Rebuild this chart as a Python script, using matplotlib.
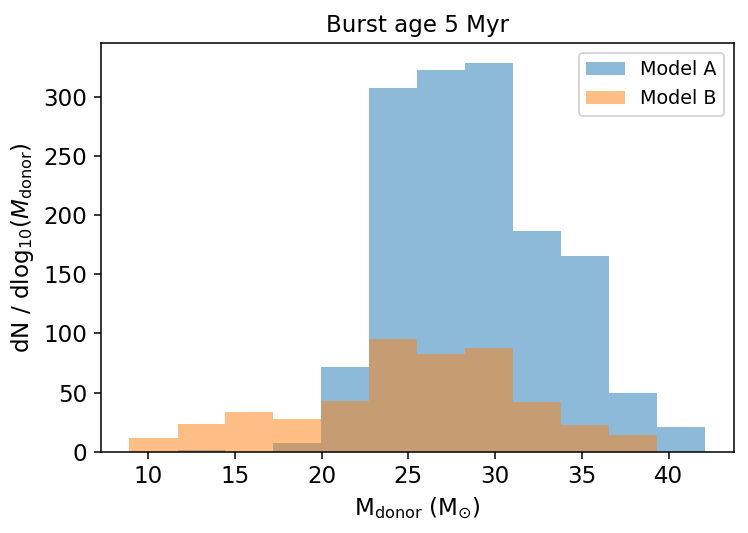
import numpy as np
import matplotlib
matplotlib.use('Agg')
import matplotlib.pyplot as plt

# Bin edges in solar masses (shared by both models)
bin_edges = [8.92, 11.69, 14.45, 17.22, 19.98, 22.75, 25.51,
             28.28, 31.04, 33.81, 36.57, 39.34, 42.10]

# dN / dlog10(M_donor) per bin
model_a = [0, 1.5, 0, 7.7, 71.6, 307.5, 322.6, 328.9, 186.7, 165.8, 49.8, 20.6]
model_b = [11.5, 23.8, 33.8, 27.5, 42.7, 95.0, 83.0, 87.6, 41.8, 22.9, 14.0, 0]

edges = np.array(bin_edges)
centers = 0.5 * (edges[:-1] + edges[1:])

dpi = 138
fig, ax = plt.subplots(figsize=(748 / dpi, 533 / dpi), dpi=dpi)

ax.hist(centers, bins=edges, weights=model_a, alpha=0.5, label='Model A')
ax.hist(centers, bins=edges, weights=model_b, alpha=0.5, label='Model B')

ax.set_title('Burst age 5 Myr', fontsize=12)
ax.set_xlabel(r'M$_{\rm donor}$ (M$_{\odot}$)', fontsize=12)
ax.set_ylabel(r'dN / dlog$_{10}$($M_{\rm donor}$)', fontsize=12)
ax.tick_params(labelsize=12)
ax.legend(fontsize=10)

plt.subplots_adjust(left=0.1346, right=0.981, bottom=0.1525, top=0.919)
plt.savefig('out.png', dpi=dpi)
